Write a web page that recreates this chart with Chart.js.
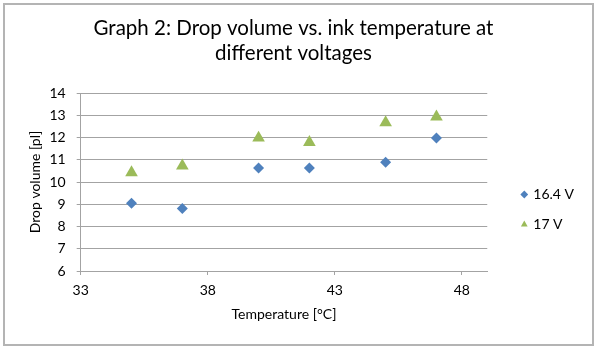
<!DOCTYPE html>
<html>
<head>
<meta charset="utf-8">
<script src="https://cdn.jsdelivr.net/npm/chart.js@4.4.1/dist/chart.umd.min.js"></script>
<style>
    html, body { margin: 0; padding: 0; background: #fff; }
    #wrap { position: relative; width: 600px; height: 352px; }
</style>
</head>
<body>
<div id="wrap"><canvas id="chart"></canvas></div>
<script>
// data
const temperatures = [35, 37, 40, 42, 45, 47];
const volumeAt164V = [9.05, 8.81, 10.63, 10.63, 10.89, 11.98];
const volumeAt17V = [10.42, 10.73, 11.98, 11.78, 12.67, 12.93];
const seriesNames = ['16.4 V', '17 V'];
const xTickValues = [33, 38, 43, 48];
const titleLines = ['Graph 2: Drop volume vs. ink temperature at', 'different voltages'];

const FONT = 'Lato, "Liberation Sans", sans-serif';
const GRID = '#a3a3a3';

function toPoints(xs, ys) {
    return xs.map((x, i) => ({ x: x, y: ys[i] }));
}

// outer frame like the exported chart box
const framePlugin = {
    id: 'frame',
    beforeDraw(chart) {
        const ctx = chart.ctx;
        ctx.save();
        ctx.fillStyle = '#fff';
        ctx.fillRect(0, 0, chart.width, chart.height);
        ctx.strokeStyle = '#b4b4b4';
        ctx.lineWidth = 2;
        ctx.strokeRect(4, 4, 589, 341);
        ctx.restore();
    }
};

// move the legend a bit away from the plot and down, as in the original
const legendShift = { x: 19, y: 43 };
const legendPlugin = {
    id: 'legendShift',
    afterLayout(chart) {
        const lg = chart.legend;
        if (!lg) return;
        lg.left += legendShift.x;
        lg.right += legendShift.x;
        lg.top += legendShift.y;
        lg.bottom += legendShift.y;
    }
};

new Chart(document.getElementById('chart'), {
    type: 'scatter',
    data: {
        datasets: [{
            label: seriesNames[0],
            data: toPoints(temperatures, volumeAt164V),
            pointStyle: 'rectRot',
            pointRadius: 5.5,
            pointHoverRadius: 5.5,
            backgroundColor: '#4F81BD',
            borderColor: '#4F81BD',
            borderWidth: 0
        }, {
            label: seriesNames[1],
            data: toPoints(temperatures, volumeAt17V),
            pointStyle: 'triangle',
            pointRadius: 7.3,
            pointHoverRadius: 7.3,
            backgroundColor: '#9BBB59',
            borderColor: '#9BBB59',
            borderWidth: 0
        }]
    },
    options: {
        responsive: true,
        maintainAspectRatio: false,
        animation: false,
        layout: { padding: { top: 6, left: 22, right: 35, bottom: 25 } },
        plugins: {
            title: {
                display: true,
                text: titleLines,
                color: '#000',
                font: { family: FONT, size: 20.5, weight: 'normal', lineHeight: 1.22 },
                padding: { top: 10, bottom: 27 }
            },
            legend: {
                position: 'right',
                labels: {
                    usePointStyle: true,
                    boxWidth: 4,
                    boxHeight: 5.5,
                    padding: 16,
                    color: '#000',
                    font: { family: FONT, size: 14 }
                }
            },
            tooltip: { enabled: false }
        },
        scales: {
            x: {
                type: 'linear',
                min: 33,
                max: 49,
                afterBuildTicks(scale) {
                    scale.ticks = xTickValues.map(v => ({ value: v }));
                },
                afterFit(scale) { scale.height = 56; },
                grid: { drawOnChartArea: false, drawTicks: true, tickLength: 4, color: GRID },
                border: { display: true, color: GRID },
                ticks: { color: '#000', padding: 7, font: { family: FONT, size: 14 } },
                title: {
                    display: true,
                    text: 'Temperature [°C]',
                    color: '#000',
                    font: { family: FONT, size: 14 },
                    padding: { top: 4, bottom: 4 }
                }
            },
            y: {
                min: 6,
                max: 14,
                afterFit(scale) { scale.width = 58.7; },
                grid: { color: GRID, tickLength: 4 },
                border: { display: true, color: GRID },
                ticks: { stepSize: 1, color: '#000', padding: 11, font: { family: FONT, size: 14 } },
                title: {
                    display: true,
                    text: 'Drop volume [pl]',
                    color: '#000',
                    font: { family: FONT, size: 14 },
                    padding: { top: 5, bottom: 4 }
                }
            }
        }
    },
    plugins: [framePlugin, legendPlugin]
});
</script>
</body>
</html>
